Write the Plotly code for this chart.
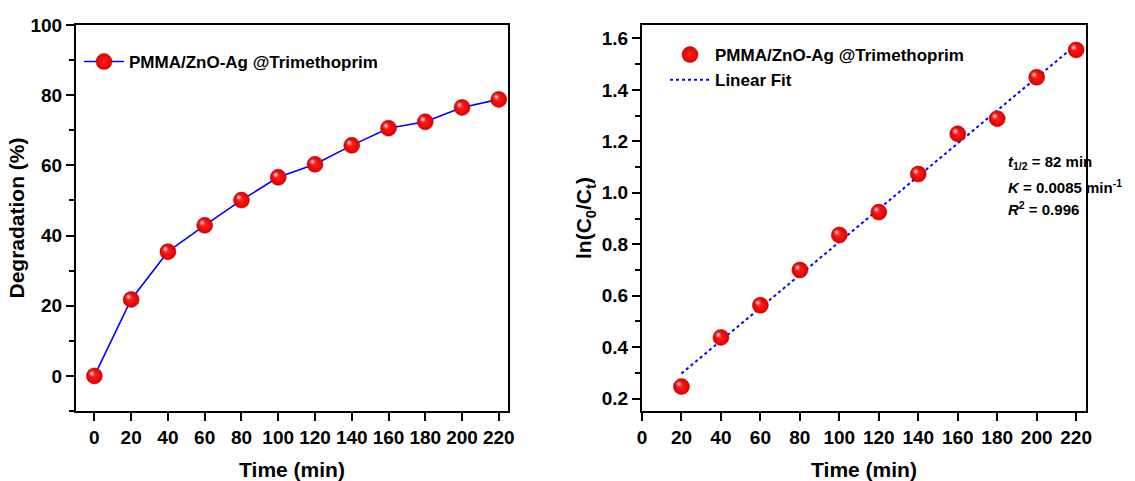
import numpy as np
import plotly.graph_objects as go

# Data
time_deg = [0, 20, 40, 60, 80, 100, 120, 140, 160, 180, 200, 220]
degradation = [0, 21.8, 35.4, 42.9, 50.1, 56.6, 60.3, 65.7, 70.6, 72.4, 76.5, 78.8]

time_ln = [20, 40, 60, 80, 100, 120, 140, 160, 180, 200, 220]
ln_c0_ct = [0.247, 0.438, 0.563, 0.700, 0.836, 0.925, 1.073, 1.229, 1.288, 1.449, 1.555]

series_name = "PMMA/ZnO-Ag @Trimethoprim"
fit_name = "Linear Fit"
x_ticks = [0, 20, 40, 60, 80, 100, 120, 140, 160, 180, 200, 220]

slope, intercept = np.polyfit(time_ln, ln_c0_ct, 1)
fit_x = [time_ln[0], time_ln[-1]]
fit_y = [slope * v + intercept for v in fit_x]

FONT = "Liberation Sans, Arial, sans-serif"
W, H = 1135, 481

# radial gradient: gradient.color is the centre colour, marker.color the edge colour
marker_big = dict(size=16, color="#e00000", line=dict(color="#a80000", width=0.5),
                  gradient=dict(type="radial", color="#ff2020"))
marker_hl = dict(size=8, color="rgba(255,60,60,0)", line=dict(width=0),
                 gradient=dict(type="radial", color="rgba(255,255,255,1)"))

fig = go.Figure()

# Left panel
fig.add_trace(go.Scatter(x=time_deg, y=degradation, mode="lines+markers", name=series_name,
                         line=dict(color="#0000ff", width=1.6), marker=marker_big,
                         xaxis="x", yaxis="y", legend="legend"))
fig.add_trace(go.Scatter(x=time_deg, y=degradation, mode="markers", showlegend=False,
                         marker=marker_hl, hoverinfo="skip", xaxis="x3", yaxis="y3"))

# Right panel
fig.add_trace(go.Scatter(x=fit_x, y=fit_y, mode="lines", name=fit_name,
                         line=dict(color="#0000ff", width=2, dash="dot"),
                         xaxis="x2", yaxis="y2", legend="legend2", legendrank=2))
fig.add_trace(go.Scatter(x=time_ln, y=ln_c0_ct, mode="markers", name=series_name,
                         marker=marker_big, xaxis="x2", yaxis="y2", legend="legend2", legendrank=1))
fig.add_trace(go.Scatter(x=time_ln, y=ln_c0_ct, mode="markers", showlegend=False,
                         marker=marker_hl, hoverinfo="skip", xaxis="x4", yaxis="y4"))

axis_common = dict(showline=True, mirror=True, linecolor="black", linewidth=2,
                   ticks="outside", ticklen=8, tickwidth=2, tickcolor="black",
                   showgrid=False, zeroline=False, automargin=False,
                   tickfont=dict(family=FONT, size=19, color="black", weight="bold"))
title_font = dict(family=FONT, size=21, color="black", weight="bold")
minor_common = dict(ticks="outside", ticklen=5, tickwidth=2, tickcolor="black")

L1 = [76 / W, 508 / W]
L2 = [642 / W, 1086 / W]
yd = [1 - 411 / H, 1 - 25 / H]
dx, dy = 2.5 / W, 2.5 / H
hidden = dict(visible=False, showgrid=False, zeroline=False, fixedrange=True)

fig.update_layout(
    width=W, height=H,
    margin=dict(l=0, r=0, t=0, b=0),
    paper_bgcolor="white", plot_bgcolor="rgba(0,0,0,0)",
    xaxis=dict(domain=L1, range=[-10, 225], tickvals=x_ticks,
               title=dict(text="Time (min)", font=title_font, standoff=16), anchor="y", **axis_common),
    yaxis=dict(domain=yd, range=[-10, 100], dtick=20, tick0=0,
               minor=dict(dtick=10, tick0=0, **minor_common),
               title=dict(text="Degradation (%)", font=title_font, standoff=0), anchor="x", **axis_common),
    xaxis2=dict(domain=L2, range=[0, 225], tickvals=x_ticks,
                title=dict(text="Time (min)", font=title_font, standoff=16), anchor="y2", **axis_common),
    yaxis2=dict(domain=yd, range=[0.152, 1.652], dtick=0.2, tick0=0, tickformat=".1f",
                minor=dict(dtick=0.1, tick0=0, **minor_common),
                title=dict(text="ln(C<sub>0</sub>/C<sub>t</sub>)", font=title_font, standoff=4),
                anchor="x2", **axis_common),
    xaxis3=dict(domain=[L1[0] - dx, L1[1] - dx], range=[-10, 225], anchor="y3", **hidden),
    yaxis3=dict(domain=[yd[0] + dy, yd[1] + dy], range=[-10, 100], anchor="x3", **hidden),
    xaxis4=dict(domain=[L2[0] - dx, L2[1] - dx], range=[0, 225], anchor="y4", **hidden),
    yaxis4=dict(domain=[yd[0] + dy, yd[1] + dy], range=[0.152, 1.652], anchor="x4", **hidden),
    legend=dict(x=79 / W, y=1 - 44 / H, xanchor="left", yanchor="top",
                bgcolor="rgba(0,0,0,0)", borderwidth=0, itemwidth=40,
                font=dict(family=FONT, size=17, color="black", weight="bold")),
    legend2=dict(x=665 / W, y=1 - 37 / H, xanchor="left", yanchor="top",
                 bgcolor="rgba(0,0,0,0)", borderwidth=0, itemwidth=40, tracegroupgap=0,
                 font=dict(family=FONT, size=17, color="black", weight="bold")),
    showlegend=True,
)

ann_font = dict(family=FONT, size=15, color="black", weight="bold")
ann_texts = ["<i>t</i><sub>1/2</sub> = 82 min",
             "<i>K</i> = 0.0085 min<sup>-1</sup>",
             "<i>R</i><sup>2</sup> = 0.996"]
ann_ys = [162, 186, 209]
for t, yy in zip(ann_texts, ann_ys):
    fig.add_annotation(text=t, xref="paper", yref="paper", x=1006 / W, y=1 - yy / H,
                       xanchor="left", yanchor="middle", showarrow=False, font=ann_font)

fig.write_html("out.html", config={"displayModeBar": False},
               post_script="document.body.style.margin='0';")
